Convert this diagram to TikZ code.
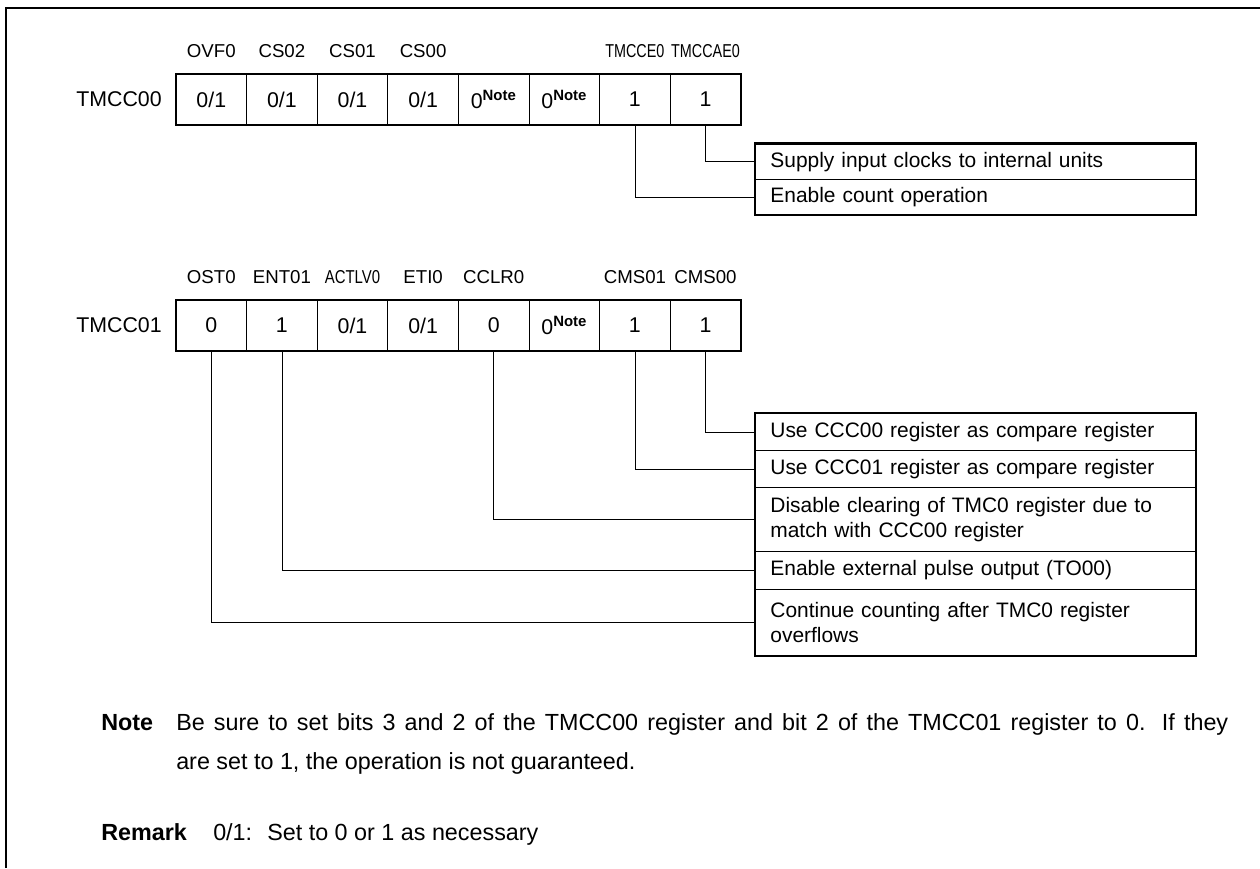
\documentclass[tikz,border=0pt]{standalone}
\usepackage{fontspec}
\setmainfont{Liberation Sans}
\usetikzlibrary{positioning}

\newcommand{\nt}{\textsuperscript{\bfseries Note}}

\begin{document}
\begin{tikzpicture}[x=0.75pt, y=-0.75pt,
  font=\fontsize{16}{19}\selectfont,
  cell/.style={draw, line width=0.6pt, minimum width=52.95pt,
    minimum height=38.25pt, inner sep=0pt},
  bit/.style={anchor=base, font=\fontsize{14}{16}\selectfont},
  nbit/.style={bit, xscale=0.77},
  reg/.style={font=\fontsize{16}{19}\selectfont},
  desc/.style={draw, line width=0.6pt, anchor=north west, align=left,
    text width=307.5pt, inner xsep=11.25pt, inner ysep=0pt,
    font=\fontsize{15.7}{18.5}\selectfont},
  frame/.style={line width=1.6pt},
  wire/.style={line width=0.6pt},
  txt/.style={anchor=base west, inner sep=0pt, font=\fontsize{17.5}{29.25}\selectfont}
]
\useasboundingbox (0,0) rectangle (1260,868);
\draw[line width=2.2pt] (6,868) -- (6,8) -- (1260,8);

\node[reg] (n0) at (119,99.5) {TMCC00};
\node[cell] (ovf) at (211.3,99.5) {0/1};
\node[cell] (cs2) at (281.9,99.5) {0/1};
\node[cell] (cs1) at (352.5,99.5) {0/1};
\node[cell] (cs0) at (423.1,99.5) {0/1};
\node[cell] (z3) at (493.7,99.5) {0\nt};
\node[cell] (z2) at (564.3,99.5) {0\nt};
\node[cell] (tce) at (634.9,99.5) {1};
\node[cell] (tcae) at (705.5,99.5) {1};
\draw[frame] (ovf.north west) rectangle (tcae.south east);

\node[bit] at (211.3,57) {OVF0};
\node[bit] at (281.9,57) {CS02};
\node[bit] at (352.5,57) {CS01};
\node[bit] at (423.1,57) {CS00};
\node[nbit] at (634.9,57) {TMCCE0};
\node[nbit] at (705.5,57) {TMCCAE0};

\node[desc, minimum height=26.6pt] (d1) at (755,143.5) {Supply input clocks to internal units};
\node[desc, minimum height=26.6pt] (d2) at (755,179) {Enable count operation};
\draw[frame] (d1.north west) rectangle (d2.south east);
\draw[wire] (tcae.south) |- (d1.west);
\draw[wire] (tce.south) |- (d2.west);

\node[reg] (n1) at (119,325.5) {TMCC01};
\node[cell] (ost) at (211.3,325.5) {0};
\node[cell] (ent) at (281.9,325.5) {1};
\node[cell] (actlv) at (352.5,325.5) {0/1};
\node[cell] (eti) at (423.1,325.5) {0/1};
\node[cell] (cclr) at (493.7,325.5) {0};
\node[cell] (z1) at (564.3,325.5) {0\nt};
\node[cell] (cms1) at (634.9,325.5) {1};
\node[cell] (cms0) at (705.5,325.5) {1};
\draw[frame] (ost.north west) rectangle (cms0.south east);

\node[bit] at (211.3,283) {OST0};
\node[bit] at (281.9,283) {ENT01};
\node[bit, xscale=0.8] at (352.5,283) {ACTLV0};
\node[bit] at (423.1,283) {ETI0};
\node[bit] at (493.7,283) {CCLR0};
\node[bit] at (634.9,283) {CMS01};
\node[bit] at (705.5,283) {CMS00};

\node[desc, minimum height=27.75pt] (e1) at (755,413) {Use CCC00 register as compare register};
\node[desc, minimum height=27.75pt] (e2) at (755,450) {Use CCC01 register as compare register};
\node[desc, minimum height=48pt] (e3) at (755,487) {Disable clearing of TMC0 register due to\\match with CCC00 register};
\node[desc, minimum height=28.5pt] (e4) at (755,551) {Enable external pulse output (TO00)};
\node[desc, minimum height=49.5pt] (e5) at (755,589) {Continue counting after TMC0 register\\overflows};
\draw[frame] (e1.north west) rectangle (e5.south east);
\draw[wire] (cms0.south) |- (e1.west);
\draw[wire] (cms1.south) |- (e2.west);
\draw[wire] (cclr.south) |- (e3.west);
\draw[wire] (ent.south) |- (e4.west);
\draw[wire] (ost.south) |- (e5.west);

\node[txt] (nl) at (101,730) {\bfseries Note};
\node[txt, text width=789pt, align=justify] (nb) at (176,730) {Be sure to set bits 3 and 2 of the TMCC00 register and bit 2 of the TMCC01 register to 0. If they\linebreak are set to 1, the operation is not guaranteed.};
\node[txt] (rl) at (101,840) {\bfseries Remark};
\node[txt] (rb) at (213,840) {0/1: \ Set to 0 or 1 as necessary};
\end{tikzpicture}
\end{document}
